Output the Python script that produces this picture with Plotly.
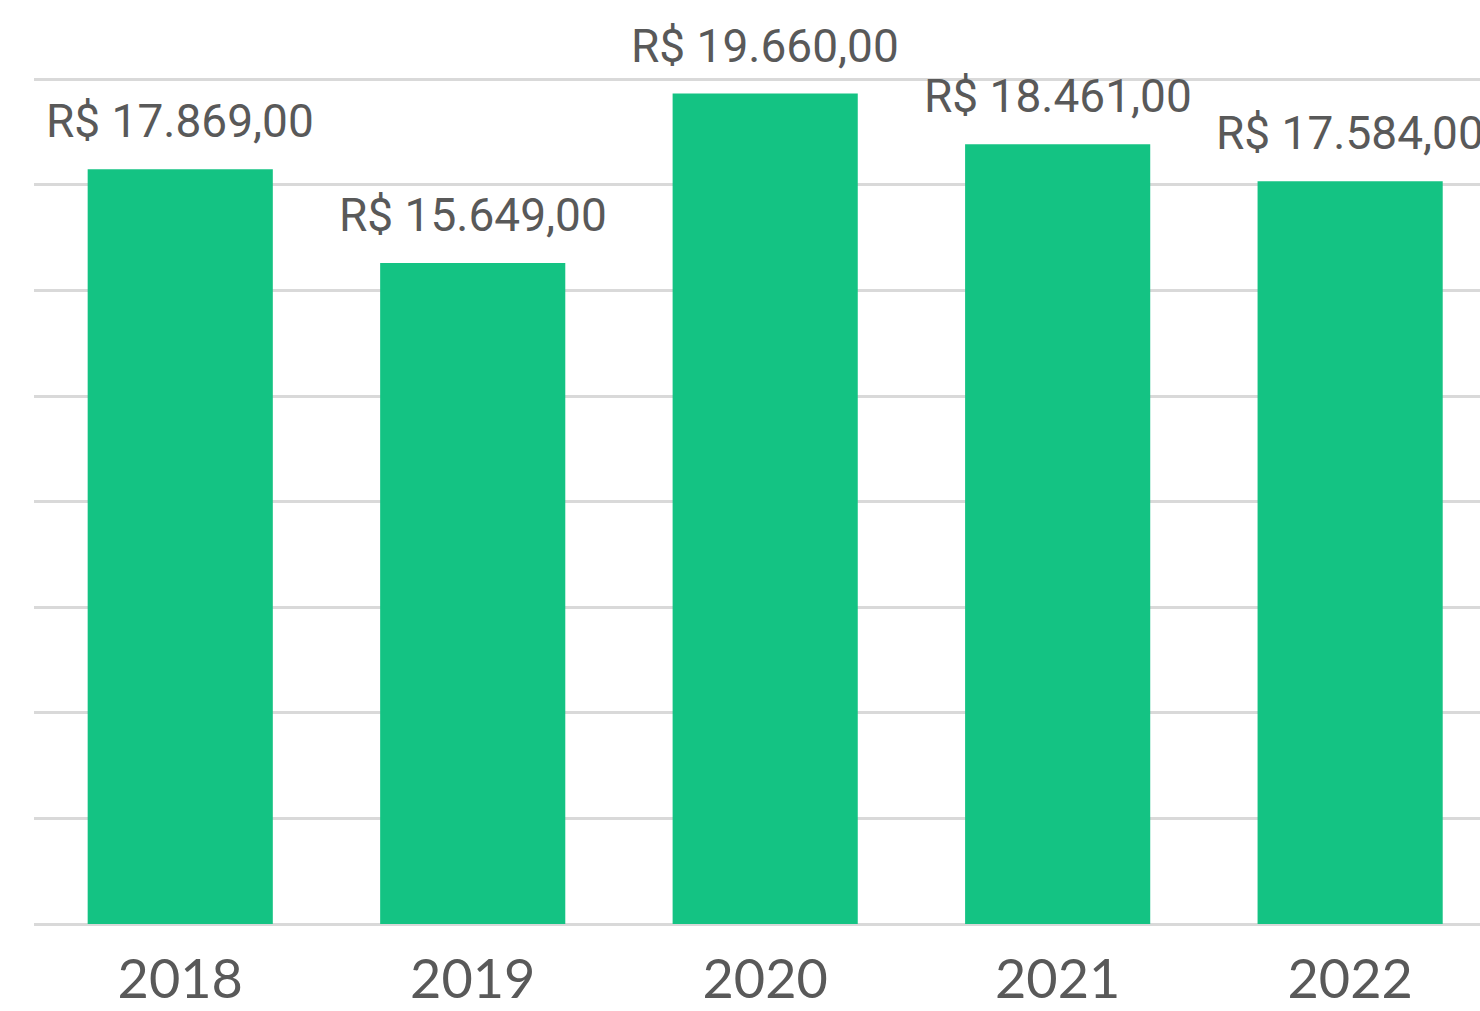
import plotly.graph_objects as go

# Annual values in R$
anos = ["2018", "2019", "2020", "2021", "2022"]
valores = [17869, 15649, 19660, 18461, 17584]
rotulos = ["R$ 17.869,00", "R$ 15.649,00", "R$ 19.660,00", "R$ 18.461,00", "R$ 17.584,00"]

cor_barra = "#14C383"
cor_texto = "#595959"
cor_grade = "#D9D9D9"

fig = go.Figure(
    go.Bar(
        x=anos,
        y=valores,
        marker=dict(color=cor_barra, line=dict(width=0)),
        hoverinfo="skip",
    )
)

# Value labels above each bar (category axis positions are indices)
for i, (valor, rotulo) in enumerate(zip(valores, rotulos)):
    fig.add_annotation(
        x=i,
        y=valor,
        text=rotulo,
        showarrow=False,
        yanchor="bottom",
        yshift=19,
        font=dict(family="Roboto", size=46, color=cor_texto),
    )

fig.update_layout(
    width=1480,
    height=1011,
    margin=dict(l=34, r=0, t=0, b=87),
    paper_bgcolor="white",
    plot_bgcolor="white",
    bargap=0.367,
    showlegend=False,
    xaxis=dict(
        type="category",
        range=[-0.5, 4.444],
        showgrid=False,
        showline=False,
        ticks="",
        automargin=False,
        ticklabelstandoff=19,
        tickfont=dict(family="Lato", size=54, color=cor_texto),
    ),
    yaxis=dict(
        range=[0, 21875],
        dtick=2500,
        showgrid=True,
        gridcolor=cor_grade,
        gridwidth=3,
        zeroline=True,
        zerolinecolor=cor_grade,
        zerolinewidth=3,
        showticklabels=False,
        ticks="",
        automargin=False,
    ),
)

fig.write_html("out.html")
